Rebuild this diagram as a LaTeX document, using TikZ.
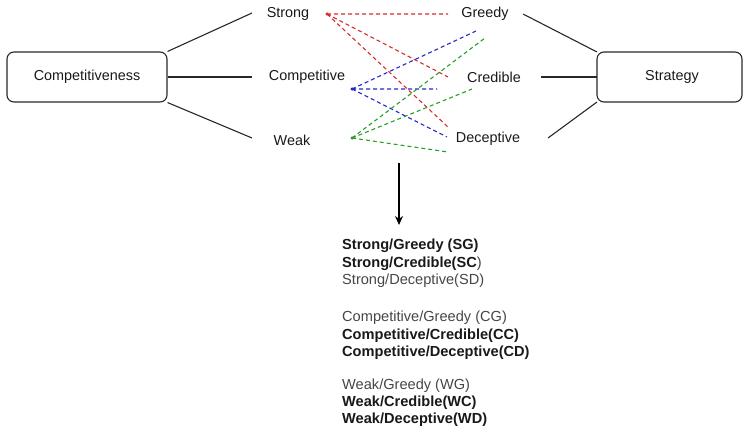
\documentclass[tikz,border=0pt]{standalone}
\usepackage{fontspec}
\setmainfont{Liberation Sans}
\usetikzlibrary{arrows.meta}
\definecolor{dred}{RGB}{215,45,45}
\definecolor{dblue}{RGB}{40,40,200}
\definecolor{dgreen}{RGB}{40,160,40}
\definecolor{ln}{RGB}{40,40,40}
\definecolor{tx}{RGB}{25,25,25}
\definecolor{lt}{RGB}{70,70,70}
\tikzset{
  box/.style={draw=ln, line width=1.1pt, rounded corners=7pt, inner sep=0pt},
  lbl/.style={font=\fontsize{14.4}{16}\selectfont, text=tx, inner sep=0pt},
  link/.style={draw=ln, line width=1.1pt},
  dsh/.style={line width=1.1pt, dash pattern=on 4pt off 3pt},
  dotc/.style={circle, fill, inner sep=0pt, minimum size=3.5pt},
  res/.style={font=\fontsize{14.6}{16}\selectfont, text=tx, anchor=west, inner sep=0pt},
  resl/.style={res, text=lt}
}
\begin{document}
\begin{tikzpicture}[x=1pt,y=-1pt]
\useasboundingbox (0,0) rectangle (746,431);
% boxes
\node[box, minimum width=160pt, minimum height=50pt] (cb) at (87,77) {};
\node[lbl] (cbt) at (87,77) {Competitiveness};
\draw[box] (597,52) rectangle (742,102);
\coordinate (sbnw) at (597,52);
\coordinate (sbw) at (597,77);
\coordinate (sbsw) at (597,102);
\node[lbl] (sbt) at (672,77) {Strategy};
% left labels
\node[lbl] (strong) at (288,14) {Strong};
\node[lbl] (comp) at (307,77) {Competitive};
\node[lbl] (weak) at (292,140) {Weak};
% right labels
\node[lbl] (greedy) at (485,14) {Greedy};
\node[lbl] (cred) at (494,77) {Credible};
\node[lbl] (dec) at (488,139) {Deceptive};
% line end coordinates
\coordinate (l1) at (252,13);
\coordinate (l2) at (252,77);
\coordinate (l3) at (252,138);
\coordinate (r1) at (523,14);
\coordinate (r2) at (541,77);
\coordinate (r3) at (548,138);
\draw[link] (cb.north east) -- (l1);
\draw[link] (cb.east) -- (l2);
\draw[link] (cb.south east) -- (l3);
\draw[link] (r1) -- (sbnw);
\draw[link] (r2) -- (sbw);
\draw[link] (r3) -- (sbsw);
% dots
\node[dotc, dred] (rd) at (327,14) {};
\node[dotc, dblue] (bd) at (352,89) {};
\node[dotc, dgreen] (gd) at (352,138) {};
\coordinate (re1) at (448,14);
\coordinate (re2) at (448,77);
\coordinate (re3) at (448,127);
\coordinate (be1) at (476,31);
\coordinate (be2) at (437,89);
\coordinate (be3) at (447,137);
\coordinate (ge1) at (485,38);
\coordinate (ge2) at (472,89);
\coordinate (ge3) at (448,152);
\draw[dsh, dred] (rd.center) -- (re1) (rd.center) -- (re2) (rd.center) -- (re3);
\draw[dsh, dblue] (bd.center) -- (be1) (bd.center) -- (be2) (bd.center) -- (be3);
\draw[dsh, dgreen] (gd.center) -- (ge1) (gd.center) -- (ge2) (gd.center) -- (ge3);
% arrow
\coordinate (a1) at (399,163);
\coordinate (a2) at (399,225);
\draw[line width=1.2pt, -{Stealth[length=9pt,width=8pt]}] (a1) -- (a2);
% results
\node[res] (sg) at (342,246) {\textbf{Strong/Greedy (SG)}};
\node[res] (sc) at (342,263.5) {\textbf{Strong/Credible(SC}{\color{lt})}};
\node[resl] (sd) at (342,281) {Strong/Deceptive(SD)};
\node[resl] (cg) at (342,318) {Competitive/Greedy (CG)};
\node[res] (cc) at (342,335.5) {\textbf{Competitive/Credible(CC)}};
\node[res] (cd) at (342,353) {\textbf{Competitive/Deceptive(CD)}};
\node[resl] (wg) at (342,386) {Weak/Greedy (WG)};
\node[res] (wc) at (342,403) {\textbf{Weak/Credible(WC)}};
\node[res] (wd) at (342,420) {\textbf{Weak/Deceptive(WD)}};
\end{tikzpicture}
\end{document}
